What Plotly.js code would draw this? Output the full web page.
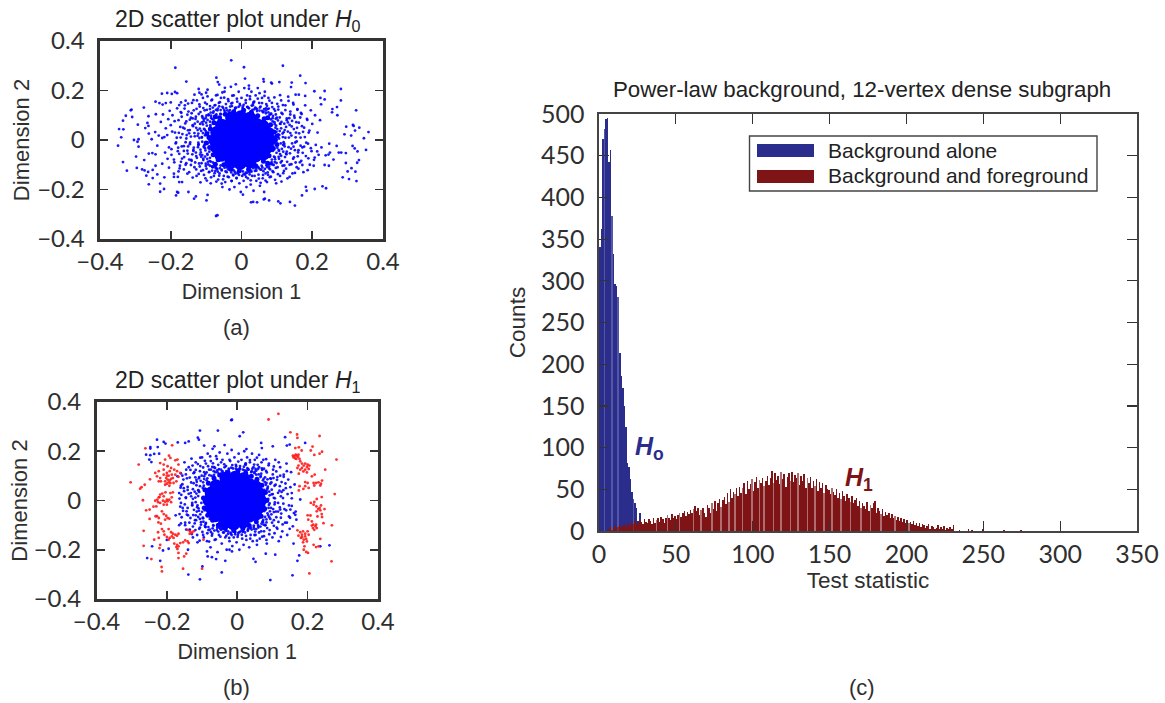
<!DOCTYPE html>
<html><head><meta charset="utf-8"><script src="https://cdn.plot.ly/plotly-3.0.1.min.js"></script>
<style>html,body{margin:0;padding:0;background:#fff}#c{width:1165px;height:703px}</style></head><body><div id="c"></div>
<script>
const scatterTicks=[-0.4,-0.2,0,0.2,0.4];
const scatterTickText=['\u22120.4','\u22120.2','0','0.2','0.4'];
const histXTicks=[0,50,100,150,200,250,300,350];
const histYTicks=[0,50,100,150,200,250,300,350,400,450,500];

// Panel (a): dense core, its edge, mid-density bands, sparse outliers
const h0Core=[[-0.03,-0.09],[-0.004,-0.095],[0.024,-0.088],[-0.058,-0.062],[-0.034,-0.06],[-0.008,-0.065],[0.016,-0.06],[0.04,-0.064],[0.062,-0.056],[-0.07,-0.03],[-0.046,-0.034],[-0.02,-0.03],[0.005,-0.032],[0.03,-0.03],[0.055,-0.034],[0.074,-0.028],[-0.076,0],[-0.05,0.002],[-0.024,-0.002],[0,0],[0.026,0.002],[0.05,-0.002],[0.078,0],[-0.07,0.03],[-0.044,0.032],[-0.02,0.03],[0.006,0.034],[0.03,0.03],[0.056,0.032],[0.074,0.028],[-0.056,0.06],[-0.032,0.062],[-0.006,0.064],[0.018,0.06],[0.042,0.064],[0.06,0.056],[-0.028,0.09],[-0.002,0.094],[0.024,0.088]];
const h0Edge=[[-0.092,0.01],[-0.09,-0.03],[-0.088,0.044],[-0.08,-0.06],[-0.078,0.07],[-0.066,-0.08],[-0.062,0.09],[-0.05,-0.1],[-0.046,0.104],[-0.03,-0.118],[-0.022,0.114],[-0.006,-0.124],[0.006,0.12],[0.02,-0.118],[0.028,0.112],[0.04,-0.104],[0.046,0.098],[0.062,-0.086],[0.064,0.086],[0.078,-0.064],[0.082,0.062],[0.09,-0.034],[0.092,0.032],[0.096,0],[-0.1,-0.012],[-0.098,0.024],[0.1,0.016],[0.1,-0.018],[-0.074,0.094],[0.074,0.09],[-0.074,-0.098],[0.074,-0.094]];
const h0Mid=[[-0.21,0.02],[-0.205,-0.03],[-0.2,0.06],[-0.198,-0.06],[-0.195,0.1],[-0.19,-0.09],[-0.188,0.03],[-0.185,-0.01],[-0.182,0.128],[-0.18,-0.045],[-0.178,0.08],[-0.175,-0.115],[-0.172,0.01],[-0.17,0.11],[-0.168,-0.075],[-0.165,0.05],[-0.163,-0.025],[-0.16,0.14],[-0.158,-0.1],[-0.156,0.075],[-0.155,0.02],[-0.152,-0.055],[-0.15,0.115],[-0.148,-0.13],[-0.146,0.04],[-0.145,-0.01],[-0.143,0.09],[-0.142,-0.08],[-0.14,0.15],[-0.138,0.06],[-0.136,-0.04],[-0.135,0.12],[-0.133,-0.11],[-0.132,0.015],[-0.13,0.085],[-0.128,-0.065],[-0.127,-0.145],[-0.126,0.16],[-0.124,0.04],[-0.122,-0.02],[-0.121,0.105],[-0.12,-0.095],[-0.118,0.135],[-0.117,0.065],[-0.115,-0.05],[-0.114,-0.125],[-0.112,0.01],[-0.11,0.09],[-0.109,0.17],[-0.108,-0.075],[-0.106,0.045],[-0.105,-0.03],[-0.104,0.12],[-0.102,-0.155],[-0.101,-0.105],[-0.1,0.07],[-0.098,0.145],[-0.097,-0.01],[-0.096,-0.06],[-0.094,0.03],[-0.093,0.1],[-0.092,-0.13],[-0.09,-0.085],[-0.089,0.125],[-0.088,0.06],[-0.087,-0.175],[-0.085,0.16],[-0.084,-0.04],[-0.083,0.085],[-0.082,-0.11],[-0.08,0.11],[-0.078,-0.145],[-0.076,0.14],[-0.074,-0.125],[-0.072,0.18],[-0.07,-0.115],[-0.068,0.12],[-0.066,-0.16],[-0.064,0.15],[-0.062,-0.135],[-0.06,0.105],[-0.058,0.17],[-0.056,-0.12],[-0.054,-0.19],[-0.052,0.13],[-0.05,-0.145],[-0.048,0.195],[-0.046,-0.17],[-0.044,0.145],[-0.042,-0.13],[-0.04,0.12],[-0.038,0.165],[-0.036,-0.15],[-0.034,-0.2],[-0.032,0.135],[-0.03,0.215],[-0.028,-0.165],[-0.026,0.15],[-0.024,-0.14],[-0.022,0.18],[-0.02,-0.19],[-0.018,0.13],[-0.016,0.225],[-0.014,-0.155],[-0.012,0.155],[-0.01,-0.135],[-0.008,0.195],[-0.006,-0.175],[-0.004,0.14],[-0.002,-0.21],[0,0.17],[0.002,-0.145],[0.004,0.135],[0.006,-0.165],[0.008,0.21],[0.01,-0.14],[0.012,0.15],[0.014,-0.19],[0.016,0.18],[0.018,-0.155],[0.02,0.13],[0.022,-0.13],[0.024,0.165],[0.026,-0.18],[0.028,0.195],[0.03,-0.145],[0.032,0.14],[0.034,-0.205],[0.036,0.155],[0.038,-0.125],[0.04,0.18],[0.042,-0.165],[0.044,0.125],[0.046,0.21],[0.048,-0.14],[0.05,0.15],[0.052,-0.185],[0.054,0.135],[0.056,-0.12],[0.058,0.17],[0.06,-0.155],[0.062,0.115],[0.064,-0.21],[0.066,0.195],[0.068,-0.135],[0.07,0.145],[0.072,-0.17],[0.074,0.125],[0.076,0.17],[0.078,-0.115],[0.08,-0.15],[0.082,0.105],[0.084,-0.095],[0.086,0.15],[0.088,0.075],[0.09,-0.13],[0.092,0.125],[0.094,-0.07],[0.096,0.05],[0.098,-0.175],[0.1,0.09],[0.102,-0.11],[0.104,0.135],[0.105,-0.04],[0.107,0.02],[0.109,-0.145],[0.11,0.065],[0.112,0.16],[0.114,-0.085],[0.116,0.105],[0.118,-0.02],[0.12,-0.125],[0.122,0.04],[0.124,0.14],[0.126,-0.055],[0.128,0.08],[0.13,-0.155],[0.132,0.175],[0.134,0.01],[0.136,-0.1],[0.138,0.115],[0.14,-0.035],[0.142,0.055],[0.144,-0.135],[0.146,0.15],[0.148,-0.07],[0.15,0.09],[0.152,-0.01],[0.154,0.03],[0.156,-0.11],[0.158,0.125],[0.16,-0.05],[0.162,0.07],[0.165,-0.09],[0.167,0.01],[0.17,0.105],[0.172,-0.03],[0.175,-0.13],[0.177,0.05],[0.18,0.14],[0.182,-0.065],[0.185,0.085],[0.188,-0.015],[0.19,0.03],[0.193,-0.1],[0.196,0.12],[0.198,-0.045],[0.2,0.065],[0.205,-0.08],[0.208,0.1],[0.21,-0.02],[0.215,0.03],[0.218,-0.06],[0.222,0.08],[0.226,-0.03]];
const h0Band=[[0.087,0.041],[0.093,0.072],[0.104,0.023],[0.098,0.058],[0.112,0.047],[0.089,0.097],[0.117,0.012],[0.083,0.083],[0.121,0.066],[0.108,0.091],[0.131,0.034],[0.076,0.112],[0.095,0.118],[0.064,0.125],[0.128,0.087],[0.141,0.018],[0.052,0.131],[0.136,0.061],[0.072,0.138],[0.113,0.109],[0.148,0.044],[0.041,0.128],[0.087,0.133],[0.029,0.139],[0.124,0.121],[0.155,0.072],[0.058,0.149],[0.017,0.134],[0.101,0.146],[0.163,0.027],[0.138,0.103],[0.006,0.142],[0.079,0.159],[0.149,0.098],[0.034,0.153],[0.171,0.056],[0.117,0.141],[0.046,0.167],[0.158,0.122],[0.012,0.161],[0.093,0.172],[0.179,0.012],[0.065,0.178],[0.133,0.158],[0.186,0.081],[0.024,0.176],[0.109,0.181],[0.168,0.109],[0.192,0.038],[0.051,0.189],[0.147,0.143],[0.099,0.033],[0.091,0.014],[0.103,0.079],[0.119,0.031],[0.126,0.053],[0.084,0.106],[0.097,0.103],[0.069,0.119],[0.077,0.127],[0.058,0.118],[0.044,0.117],[0.036,0.124],[0.021,0.128],[0.109,0.066],[0.143,0.077],[0.153,0.011],[0.157,0.049],[0.174,0.033],[0.166,0.091],
[-0.088,0.052],[-0.096,0.081],[-0.103,0.019],[-0.109,0.063],[-0.114,0.037],[-0.093,0.103],[-0.119,0.008],[-0.086,0.089],[-0.124,0.074],[-0.111,0.096],[-0.133,0.028],[-0.079,0.116],[-0.098,0.122],[-0.067,0.127],[-0.129,0.094],[-0.143,0.014],[-0.054,0.134],[-0.137,0.056],[-0.074,0.141],[-0.116,0.113],[-0.151,0.039],[-0.043,0.129],[-0.089,0.137],[-0.027,0.137],[-0.127,0.126],[-0.159,0.067],[-0.061,0.153],[-0.015,0.131],[-0.103,0.151],[-0.167,0.024],[-0.141,0.108],[-0.005,0.146],[-0.083,0.163],[-0.153,0.102],[-0.037,0.157],[-0.173,0.053],[-0.119,0.144],[-0.049,0.171],[-0.161,0.127],[-0.013,0.167],[-0.096,0.176],[-0.183,0.009],[-0.068,0.182],[-0.136,0.161],[-0.189,0.076],[-0.026,0.179],[-0.113,0.184],[-0.172,0.113],[-0.196,0.034],[-0.054,0.192],[-0.151,0.147],[-0.101,0.036],[-0.094,0.017],[-0.106,0.084],[-0.122,0.026],[-0.128,0.049],[-0.087,0.111],[-0.099,0.099],[-0.072,0.122],[-0.081,0.131],[-0.059,0.121],[-0.047,0.116],[-0.033,0.121],[-0.018,0.126],[-0.112,0.071],[-0.146,0.082],[-0.156,0.006],[-0.161,0.046],[-0.177,0.029],[-0.169,0.094],[-0.207,0.084],[-0.214,0.047],[-0.222,0.103],[-0.176,0.141],[-0.203,0.118],
[-0.091,-0.047],[-0.097,-0.076],[-0.105,-0.021],[-0.111,-0.061],[-0.116,-0.039],[-0.094,-0.099],[-0.122,-0.011],[-0.087,-0.087],[-0.126,-0.072],[-0.113,-0.094],[-0.135,-0.031],[-0.081,-0.109],[-0.099,-0.116],[-0.069,-0.119],[-0.131,-0.091],[-0.146,-0.017],[-0.056,-0.123],[-0.139,-0.058],[-0.076,-0.134],[-0.118,-0.107],[-0.153,-0.043],[-0.045,-0.127],[-0.091,-0.129],[-0.029,-0.131],[-0.128,-0.119],[-0.162,-0.069],[-0.063,-0.144],[-0.017,-0.136],[-0.106,-0.141],[-0.169,-0.026],[-0.143,-0.101],[-0.007,-0.141],[-0.086,-0.151],[-0.156,-0.094],[-0.039,-0.148],[-0.176,-0.056],[-0.121,-0.137],[-0.052,-0.159],[-0.163,-0.119],[-0.014,-0.153],[-0.098,-0.164],[-0.186,-0.014],[-0.071,-0.168],[-0.138,-0.152],[-0.191,-0.079],[-0.028,-0.166],[-0.116,-0.171],[-0.174,-0.104],[-0.198,-0.037],[-0.056,-0.176],[-0.153,-0.136],[-0.103,-0.033],[-0.096,-0.014],[-0.108,-0.081],[-0.123,-0.029],[-0.129,-0.051],[-0.089,-0.104],[-0.101,-0.096],[-0.073,-0.113],[-0.083,-0.124],[-0.061,-0.114],[-0.048,-0.112],[-0.034,-0.117],[-0.019,-0.129],[-0.114,-0.068],[-0.148,-0.079],[-0.158,-0.009],[-0.163,-0.044],[-0.179,-0.031],[-0.171,-0.088],[-0.209,-0.076],[-0.216,-0.051],[-0.224,-0.096],[-0.178,-0.127],[-0.205,-0.112],[-0.191,-0.136],
[0.089,-0.044],[0.095,-0.078],[0.102,-0.019],[0.109,-0.057],[0.114,-0.036],[0.091,-0.101],[0.119,-0.009],[0.085,-0.089],[0.123,-0.069],[0.111,-0.091],[0.133,-0.029],[0.078,-0.107],[0.097,-0.113],[0.066,-0.117],[0.129,-0.088],[0.143,-0.014],[0.053,-0.119],[0.137,-0.054],[0.074,-0.131],[0.116,-0.104],[0.151,-0.041],[0.042,-0.124],[0.088,-0.126],[0.028,-0.128],[0.126,-0.116],[0.159,-0.066],[0.061,-0.141],[0.015,-0.133],[0.103,-0.138],[0.167,-0.023],[0.141,-0.098],[0.006,-0.138],[0.083,-0.148],[0.153,-0.091],[0.037,-0.145],[0.173,-0.052],[0.118,-0.134],[0.049,-0.156],[0.161,-0.116],[0.013,-0.149],[0.095,-0.161],[0.183,-0.011],[0.068,-0.164],[0.136,-0.149],[0.189,-0.074],[0.026,-0.163],[0.113,-0.168],[0.172,-0.101],[0.196,-0.033],[0.054,-0.173],[0.151,-0.133],[0.101,-0.031],[0.094,-0.012],[0.106,-0.076],[0.122,-0.026],[0.128,-0.047],[0.087,-0.099],[0.099,-0.093],[0.072,-0.109],[0.081,-0.119],[0.059,-0.111],[0.047,-0.109],[0.033,-0.114],[0.018,-0.124],[0.112,-0.064],[0.146,-0.076],[0.156,-0.006],[0.161,-0.041],[0.177,-0.027],[0.169,-0.084],[0.207,-0.071],[0.214,-0.046],[0.187,-0.122],[0.204,-0.104]];
const h0Halo=[[0.106,0.006],[0.111,-0.014],[0.101,0.044],[0.108,0.036],[0.099,-0.052],[0.106,-0.044],[0.094,0.064],[0.092,-0.067],[0.088,0.088],[0.086,-0.079],[0.079,0.101],[0.082,-0.097],[0.069,0.108],[0.071,-0.102],[0.061,0.112],[0.057,-0.104],[0.051,0.119],[0.049,-0.114],[0.039,0.131],[0.041,-0.116],[0.031,0.122],[0.027,-0.124],[0.016,0.133],[0.012,-0.132],[0.003,0.129],[0.004,-0.127],[-0.008,0.134],[-0.011,-0.131],[-0.021,0.119],[-0.022,-0.123],[-0.036,0.113],[-0.038,-0.119],[-0.049,0.122],[-0.042,-0.111],[-0.058,0.104],[-0.059,-0.103],[-0.071,0.103],[-0.074,-0.108],[-0.079,0.082],[-0.081,-0.091],[-0.089,0.074],[-0.089,-0.072],[-0.098,0.058],[-0.097,-0.056],[-0.104,0.042],[-0.102,-0.042],[-0.109,0.028],[-0.107,-0.027],[-0.112,0.012],[-0.111,-0.007],[-0.118,0.046],[-0.117,-0.059],[-0.124,0.017],[-0.121,-0.018],[0.116,0.026],[0.118,-0.047],[0.124,0.009],[0.121,-0.016],[0.113,0.073],[0.105,-0.068],[0.097,0.086],[0.094,-0.089],[-0.107,0.076],[-0.103,-0.067],[-0.101,0.09],[-0.095,-0.088],[-0.086,0.098],[-0.083,-0.107],[0.131,0.071],[0.127,-0.058],[-0.132,0.066],[-0.136,-0.044],[0.069,0.128],[0.062,-0.126],[-0.063,0.136],[-0.067,-0.128],[0.033,0.147],[0.023,-0.139],[-0.029,0.147],[-0.023,-0.143],[0.138,0.028],[0.147,-0.027],[-0.148,0.027],[-0.151,-0.026],[0.075,-0.141],[0.104,0.123],[-0.108,0.129],[-0.109,-0.122],[0.121,-0.103],[0.135,0.088],[-0.138,0.087],[-0.141,-0.084]];
const h0Sparse=[[-0.029,0.322],[-0.187,0.292],[-0.071,0.252],[-0.156,0.236],[-0.067,0.234],[-0.063,0.224],[-0.047,0.211],[-0.121,0.206],[-0.096,0.203],[-0.225,0.187],[-0.21,0.19],[-0.197,0.186],[-0.188,0.194],[-0.182,0.189],[-0.133,0.183],[-0.119,0.191],[-0.1,0.191],[-0.311,0.123],[-0.313,0.12],[-0.327,0.098],[-0.335,0.078],[-0.309,0.093],[-0.276,0.131],[-0.243,0.155],[-0.232,0.149],[-0.223,0.143],[-0.214,0.149],[-0.2,0.152],[-0.171,0.152],[-0.158,0.159],[-0.263,0.096],[-0.242,0.104],[-0.293,0.062],[-0.266,0.069],[-0.263,0.057],[-0.272,0.048],[-0.228,0.073],[-0.346,0.044],[-0.334,0.043],[-0.34,0.011],[-0.349,-0.023],[-0.304,0],[-0.294,-0.007],[-0.291,0.003],[-0.291,-0.027],[-0.262,0.026],[-0.244,0.032],[-0.254,0.003],[-0.234,0.018],[-0.238,-0.023],[-0.224,0.008],[-0.218,0.012],[-0.298,-0.067],[-0.262,-0.055],[-0.252,-0.053],[-0.243,-0.058],[-0.335,-0.089],[-0.275,-0.081],[-0.296,-0.113],[-0.324,-0.124],[-0.281,-0.119],[-0.274,-0.123],[-0.264,-0.129],[-0.251,-0.121],[-0.243,-0.104],[-0.269,-0.144],[-0.251,-0.154],[-0.238,-0.139],[-0.262,-0.179],[-0.23,-0.176],[-0.218,-0.151],[-0.23,-0.209],[-0.219,-0.198],[-0.191,-0.149],[-0.18,-0.149],[-0.176,-0.17],[-0.168,-0.17],[-0.182,-0.21],[-0.179,-0.213],[-0.185,-0.224],[-0.15,-0.21],[-0.134,-0.237],[-0.129,-0.228],[-0.099,-0.244],[-0.096,-0.222],[-0.072,-0.307],[-0.068,-0.304],[0.007,0.294],[0.117,0.3],[0.01,0.248],[0.062,0.246],[0.063,0.236],[0.084,0.232],[0.086,0.228],[0.107,0.234],[0.166,0.26],[0.181,0.23],[0.142,0.232],[0.14,0.214],[0.021,0.22],[0.021,0.207],[0.206,0.197],[0.235,0.198],[0.281,0.206],[0.18,0.178],[0.162,0.183],[0.153,0.183],[0.223,0.17],[0.235,0.164],[0.225,0.144],[0.281,0.16],[0.27,0.133],[0.257,0.125],[0.256,0.112],[0.271,0.1],[0.324,0.12],[0.296,0.054],[0.315,0.061],[0.317,0.057],[0.333,0.05],[0.321,0.038],[0.359,0.032],[0.291,0.023],[0.31,0.018],[0.346,0.007],[0.248,-0.015],[0.269,-0.024],[0.314,-0.024],[0.32,-0.034],[0.352,-0.04],[0.328,-0.046],[0.275,-0.051],[0.282,-0.051],[0.295,-0.053],[0.25,-0.051],[0.246,-0.059],[0.238,-0.062],[0.26,-0.079],[0.332,-0.081],[0.327,-0.092],[0.295,-0.093],[0.235,-0.101],[0.247,-0.104],[0.311,-0.114],[0.3,-0.127],[0.322,-0.128],[0.286,-0.151],[0.304,-0.158],[0.325,-0.166],[0.229,-0.187],[0.239,-0.195],[0.207,-0.198],[0.171,-0.224],[0.182,-0.189],[0.184,-0.205],[0.066,-0.237],[0.063,-0.24],[0.078,-0.244],[0.027,-0.252],[0.033,-0.25],[0.044,-0.252],[0.104,-0.248],[0.11,-0.256],[0.137,-0.25],[0.151,-0.265],[0.004,-0.221]];

// Panel (b)
const h1Core=[[-0.036,-0.09],[-0.01,-0.095],[0.016,-0.088],[-0.062,-0.062],[-0.038,-0.06],[-0.012,-0.065],[0.012,-0.06],[0.034,-0.064],[0.052,-0.056],[-0.074,-0.03],[-0.05,-0.034],[-0.024,-0.03],[0,-0.032],[0.024,-0.03],[0.046,-0.034],[0.062,-0.028],[-0.08,0],[-0.054,0.002],[-0.028,-0.002],[-0.004,0],[0.02,0.002],[0.044,-0.002],[0.066,0],[-0.074,0.03],[-0.048,0.032],[-0.024,0.03],[0.002,0.034],[0.024,0.03],[0.048,0.032],[0.062,0.028],[-0.06,0.06],[-0.036,0.062],[-0.01,0.064],[0.012,0.06],[0.036,0.064],[0.052,0.056],[-0.032,0.09],[-0.006,0.094],[0.018,0.088]];
const h1Edge=[[-0.096,0.01],[-0.094,-0.03],[-0.092,0.044],[-0.084,-0.06],[-0.082,0.07],[-0.07,-0.08],[-0.066,0.09],[-0.054,-0.1],[-0.05,0.104],[-0.034,-0.114],[-0.026,0.114],[-0.01,-0.122],[0.002,0.12],[0.016,-0.114],[0.024,0.112],[0.034,-0.102],[0.04,0.098],[0.054,-0.086],[0.056,0.086],[0.068,-0.064],[0.07,0.062],[0.078,-0.034],[0.08,0.032],[0.084,0]];
const h1Mid=[[-0.16,0.11],[-0.155,-0.03],[-0.152,0.05],[-0.15,0.155],[-0.148,-0.09],[-0.146,0.01],[-0.143,0.09],[-0.14,-0.06],[-0.138,0.135],[-0.135,-0.12],[-0.132,0.03],[-0.13,0.17],[-0.128,-0.02],[-0.126,-0.15],[-0.124,0.07],[-0.122,0.115],[-0.12,-0.08],[-0.118,0.155],[-0.115,-0.045],[-0.113,-0.17],[-0.11,0.04],[-0.108,0.095],[-0.106,-0.11],[-0.105,0.14],[-0.102,-0.01],[-0.1,0.175],[-0.098,-0.07],[-0.097,-0.14],[-0.095,0.06],[-0.094,0.115],[-0.092,-0.04],[-0.09,-0.095],[-0.089,0.15],[-0.088,0.02],[-0.086,-0.165],[-0.085,0.09],[-0.084,0.19],[-0.082,-0.12],[-0.08,0.125],[-0.078,-0.075],[-0.076,-0.19],[-0.075,0.16],[-0.073,0.1],[-0.071,-0.135],[-0.07,0.21],[-0.068,-0.1],[-0.066,0.135],[-0.064,-0.16],[-0.062,0.115],[-0.06,0.18],[-0.058,-0.12],[-0.056,-0.21],[-0.054,0.145],[-0.052,-0.14],[-0.05,0.195],[-0.048,-0.115],[-0.046,0.125],[-0.044,-0.175],[-0.042,0.165],[-0.04,-0.13],[-0.038,0.11],[-0.036,0.225],[-0.034,-0.15],[-0.032,0.14],[-0.03,-0.2],[-0.028,0.19],[-0.026,-0.125],[-0.024,0.125],[-0.022,-0.165],[-0.02,0.16],[-0.018,-0.135],[-0.016,0.205],[-0.014,-0.185],[-0.012,0.13],[-0.01,-0.15],[-0.008,0.175],[-0.006,-0.13],[-0.004,0.145],[-0.002,-0.17],[0,0.125],[0.002,-0.14],[0.004,0.19],[0.006,-0.2],[0.008,0.14],[0.01,-0.125],[0.012,0.165],[0.014,-0.155],[0.016,0.125],[0.018,-0.18],[0.02,0.2],[0.022,-0.13],[0.024,0.145],[0.026,-0.16],[0.028,0.175],[0.03,-0.12],[0.032,0.125],[0.034,-0.19],[0.036,0.155],[0.038,-0.14],[0.04,0.115],[0.042,0.19],[0.044,-0.165],[0.046,0.135],[0.048,-0.115],[0.05,0.165],[0.052,-0.14],[0.054,0.105],[0.056,-0.18],[0.058,0.145],[0.06,-0.105],[0.062,0.185],[0.064,-0.155],[0.066,0.095],[0.068,-0.125],[0.07,0.13],[0.072,-0.085],[0.074,0.165],[0.076,-0.145],[0.078,0.075],[0.08,-0.1],[0.082,0.12],[0.084,-0.175],[0.086,0.05],[0.088,-0.06],[0.09,0.15],[0.092,-0.12],[0.094,0.09],[0.096,-0.03],[0.098,0.025],[0.1,-0.15],[0.102,0.125],[0.104,-0.08],[0.106,0.06],[0.108,0.165],[0.11,-0.045],[0.112,-0.11],[0.114,0.095],[0.116,-0.01],[0.118,-0.165],[0.12,0.04],[0.122,0.135],[0.124,-0.07],[0.126,0.075],[0.128,-0.125],[0.13,0.01],[0.132,0.105],[0.134,-0.035],[0.136,-0.09],[0.138,0.05],[0.14,0.15],[0.142,-0.14],[0.145,0.085],[0.147,-0.02],[0.15,-0.07],[0.153,0.115],[0.155,0.03],[0.158,-0.105],[0.16,-0.175],[0.163,0.065],[0.166,-0.045]];
const h1Band=[[0.077,0.043],[0.083,0.071],[0.092,0.021],[0.087,0.056],[0.098,0.044],[0.079,0.094],[0.104,0.011],[0.073,0.082],[0.109,0.064],[0.096,0.088],[0.116,0.031],[0.068,0.109],[0.084,0.114],[0.054,0.121],[0.113,0.084],[0.124,0.017],[0.043,0.129],[0.121,0.058],[0.062,0.135],[0.101,0.106],[0.131,0.042],[0.031,0.126],[0.076,0.129],[0.019,0.137],[0.111,0.118],[0.137,0.069],[0.048,0.146],[0.007,0.131],[0.089,0.143],[0.143,0.026],[0.122,0.101],[-0.003,0.139],[0.069,0.155],[0.132,0.096],[0.024,0.151],[0.151,0.054],[0.104,0.138],[0.036,0.164],[0.141,0.119],[0.003,0.158],[0.082,0.168],[0.155,0.009],[0.056,0.174],[0.118,0.155],[0.059,0.128],[0.049,0.116],[0.026,0.121],[0.094,0.068],[0.103,0.091],[0.071,0.124],
[-0.098,0.051],[-0.104,0.08],[-0.111,0.018],[-0.116,0.062],[-0.121,0.036],[-0.101,0.101],[-0.126,0.007],[-0.094,0.087],[-0.131,0.073],[-0.119,0.094],[-0.138,0.027],[-0.087,0.114],[-0.106,0.119],[-0.075,0.125],[-0.135,0.093],[-0.146,0.013],[-0.063,0.132],[-0.141,0.055],[-0.083,0.139],[-0.124,0.111],[-0.151,0.038],[-0.052,0.127],[-0.097,0.134],[-0.036,0.135],[-0.133,0.124],[-0.156,0.066],[-0.069,0.151],[-0.024,0.129],[-0.112,0.148],[-0.159,0.023],[-0.146,0.106],[-0.014,0.144],[-0.092,0.161],[-0.156,0.101],[-0.046,0.155],[-0.161,0.052],[-0.127,0.142],[-0.058,0.169],[-0.145,0.125],[-0.022,0.165],[-0.105,0.174],[-0.164,0.008],[-0.077,0.179],[-0.118,0.124],[-0.067,0.119],[-0.056,0.114],[-0.042,0.119],[-0.108,0.035],[-0.116,0.084],[-0.091,0.107],
[-0.1,-0.046],[-0.106,-0.075],[-0.113,-0.02],[-0.118,-0.06],[-0.123,-0.038],[-0.103,-0.098],[-0.128,-0.01],[-0.096,-0.086],[-0.133,-0.071],[-0.121,-0.093],[-0.141,-0.03],[-0.09,-0.108],[-0.108,-0.115],[-0.078,-0.118],[-0.136,-0.09],[-0.149,-0.016],[-0.065,-0.122],[-0.143,-0.057],[-0.085,-0.133],[-0.126,-0.106],[-0.154,-0.042],[-0.054,-0.126],[-0.099,-0.128],[-0.038,-0.13],[-0.135,-0.118],[-0.158,-0.068],[-0.072,-0.143],[-0.026,-0.135],[-0.114,-0.14],[-0.162,-0.025],[-0.148,-0.1],[-0.016,-0.14],[-0.095,-0.15],[-0.16,-0.093],[-0.048,-0.147],[-0.164,-0.055],[-0.129,-0.136],[-0.061,-0.158],[-0.145,-0.118],[-0.023,-0.152],[-0.107,-0.163],[-0.08,-0.167],[-0.119,-0.12],[-0.07,-0.113],[-0.057,-0.111],[-0.043,-0.116],[-0.11,-0.032],[-0.117,-0.08],[-0.092,-0.103],
[0.077,-0.043],[0.083,-0.077],[0.09,-0.018],[0.097,-0.056],[0.102,-0.035],[0.079,-0.1],[0.107,-0.008],[0.073,-0.088],[0.111,-0.068],[0.099,-0.09],[0.121,-0.028],[0.066,-0.106],[0.085,-0.112],[0.054,-0.116],[0.117,-0.087],[0.131,-0.013],[0.041,-0.118],[0.125,-0.053],[0.062,-0.13],[0.104,-0.103],[0.139,-0.04],[0.03,-0.123],[0.076,-0.125],[0.016,-0.127],[0.114,-0.115],[0.147,-0.065],[0.049,-0.14],[0.003,-0.132],[0.091,-0.137],[0.155,-0.022],[0.129,-0.097],[-0.006,-0.137],[0.071,-0.147],[0.141,-0.09],[0.025,-0.144],[0.161,-0.051],[0.106,-0.133],[0.037,-0.155],[0.149,-0.115],[0.001,-0.148],[0.083,-0.16],[0.056,-0.163],[0.124,-0.148],[0.06,-0.11],[0.047,-0.108],[0.035,-0.113],[0.089,-0.03],[0.094,-0.075],[0.075,-0.098],[0.116,-0.045]];
const h1Halo=[[0.088,0.006],[0.092,-0.012],[0.085,0.044],[0.091,0.036],[0.086,-0.052],[0.093,-0.044],[0.081,0.064],[0.079,-0.067],[0.075,0.088],[0.074,-0.079],[0.067,0.099],[0.069,-0.094],[0.061,0.106],[0.059,-0.099],[0.049,0.111],[0.047,-0.102],[0.041,0.119],[0.039,-0.111],[0.029,0.131],[0.031,-0.114],[0.021,0.122],[0.017,-0.124],[0.008,0.128],[0.006,-0.129],[-0.004,0.129],[-0.006,-0.127],[-0.017,0.133],[-0.019,-0.131],[-0.031,0.119],[-0.032,-0.123],[-0.044,0.113],[-0.046,-0.119],[-0.057,0.122],[-0.051,-0.111],[-0.066,0.104],[-0.068,-0.103],[-0.079,0.103],[-0.082,-0.108],[-0.087,0.082],[-0.089,-0.091],[-0.097,0.074],[-0.097,-0.072],[-0.106,0.058],[-0.105,-0.056],[-0.111,0.042],[-0.109,-0.042],[-0.116,0.028],[-0.114,-0.027],[-0.119,0.012],[-0.118,-0.007],[-0.126,0.046],[-0.125,-0.059],[-0.131,0.017],[-0.128,-0.018],[0.101,0.026],[0.104,-0.047],[0.107,0.009],[0.106,-0.016],[0.097,0.073],[0.091,-0.068],[0.086,0.086],[0.083,-0.089],[-0.115,0.076],[-0.111,-0.067],[-0.109,0.09],[-0.103,-0.088],[-0.094,0.098],[-0.091,-0.107],[0.052,0.128],[0.051,-0.126],[-0.071,0.136],[-0.075,-0.128],[0.023,0.147],[0.013,-0.139],[-0.037,0.147],[-0.031,-0.143],[-0.141,0.043],[-0.144,-0.044],[0.126,0.035],[0.122,-0.037]];
const h1Sparse=[[-0.015,0.328],[-0.017,0.326],[-0.106,0.284],[-0.055,0.284],[-0.228,0.247],[-0.209,0.238],[-0.204,0.231],[-0.169,0.236],[-0.148,0.234],[-0.138,0.24],[-0.112,0.255],[-0.109,0.247],[-0.247,0.217],[-0.247,0.211],[-0.226,0.217],[-0.259,0.186],[-0.247,0.184],[-0.236,0.189],[-0.222,0.19],[-0.25,0.166],[-0.244,0.156],[-0.094,0.223],[-0.065,0.22],[-0.256,-0.234],[-0.219,-0.245],[-0.242,-0.186],[-0.211,-0.203],[-0.195,-0.196],[-0.139,-0.301],[-0.106,-0.32],[-0.044,-0.292],[-0.099,-0.268],[-0.034,-0.245],[-0.086,-0.207],[-0.084,-0.227],[-0.072,-0.23],[-0.06,-0.238],[-0.022,-0.2],[-0.015,-0.207],[0.007,0.261],[0.017,0.277],[0.068,0.234],[0.07,0.213],[0.026,0.209],[0.101,0.22],[0.136,0.257],[0.141,0.223],[0.149,0.227],[0.193,0.234],[0.094,-0.323],[0.157,-0.304],[0.052,-0.249],[0.046,-0.237],[0.171,-0.245],[0.176,-0.223],[0.262,-0.182],[0.236,-0.186],[0.108,-0.22],[0.081,-0.216],[0.165,-0.058],[0.168,-0.078],[0.151,-0.037],[0.179,0.004],[-0.17,0.098],[-0.16,0.06],[-0.153,0.085],[-0.165,0.03],[-0.16,-0.01],[-0.175,-0.06],[-0.165,-0.1],[-0.2,-0.16],[-0.14,-0.2]];
const h1Red=[[-0.261,0.212],[-0.185,0.224],[-0.28,0.146],[-0.303,0.074],[-0.276,0.048],[-0.272,0.054],[-0.263,0.064],[-0.248,0.086],[-0.268,0.001],[-0.249,-0.037],[-0.259,-0.04],[-0.249,-0.075],[-0.238,-0.025],[-0.23,-0.024],[-0.225,-0.007],[-0.233,-0.001],[-0.227,0.003],[-0.223,0.013],[-0.219,0.024],[-0.213,0.028],[-0.209,0.017],[-0.204,0.033],[-0.19,0.03],[-0.183,0.033],[-0.2,0.003],[-0.211,-0.001],[-0.205,-0.005],[-0.198,-0.003],[-0.193,0.003],[-0.186,0.013],[-0.188,-0.007],[-0.219,-0.01],[-0.221,0.014],[-0.209,-0.017],[-0.2,-0.017],[-0.214,-0.044],[-0.209,-0.055],[-0.228,-0.064],[-0.223,-0.071],[-0.232,-0.064],[-0.205,-0.078],[-0.198,-0.071],[-0.193,-0.074],[-0.202,-0.062],[-0.224,-0.089],[-0.217,-0.094],[-0.266,-0.123],[-0.225,-0.129],[-0.214,-0.116],[-0.209,-0.125],[-0.195,-0.116],[-0.188,-0.129],[-0.183,-0.135],[-0.176,-0.139],[-0.186,-0.146],[-0.171,-0.143],[-0.167,-0.135],[-0.207,-0.139],[-0.2,-0.148],[-0.192,-0.152],[-0.195,-0.159],[-0.181,-0.152],[-0.223,-0.152],[-0.236,-0.159],[-0.219,-0.18],[-0.221,-0.193],[-0.266,-0.184],[-0.244,-0.238],[-0.215,-0.27],[-0.214,-0.288],[-0.154,-0.277],[-0.1,-0.277],[-0.096,-0.159],[-0.179,-0.175],[-0.171,-0.18],[-0.167,-0.186],[-0.162,-0.173],[-0.154,-0.17],[-0.148,-0.162],[-0.141,-0.166],[-0.138,-0.173],[-0.173,-0.189],[-0.17,-0.197],[-0.167,-0.213],[-0.145,-0.216],[-0.151,-0.227],[-0.167,-0.234],[-0.141,-0.119],[-0.134,-0.125],[-0.129,-0.132],[-0.124,-0.125],[-0.135,-0.135],[-0.194,0.182],[-0.205,0.166],[-0.19,0.173],[-0.176,0.163],[-0.17,0.166],[-0.167,0.146],[-0.219,0.152],[-0.209,0.146],[-0.198,0.139],[-0.188,0.132],[-0.179,0.125],[-0.171,0.119],[-0.162,0.112],[-0.223,0.119],[-0.233,0.112],[-0.228,0.098],[-0.219,0.091],[-0.209,0.105],[-0.2,0.112],[-0.192,0.119],[-0.186,0.105],[-0.176,0.105],[-0.167,0.096],[-0.205,0.078],[-0.198,0.085],[-0.192,0.082],[-0.202,0.091],[-0.195,0.074],[-0.188,0.088],[-0.2,0.068],[-0.193,0.06],[-0.205,0.064],[-0.217,0.078],[-0.181,0.071],[-0.173,0.078],[-0.223,0.078],[-0.209,0.125],[-0.195,0.101],[-0.183,0.091],[-0.2,0.101],[-0.19,0.071],[0.089,0.329],[0.117,0.352],[0.151,0.277],[0.17,0.268],[0.171,0.254],[0.234,0.262],[0.165,0.213],[0.175,0.216],[0.183,0.203],[0.214,0.219],[0.209,0.203],[0.241,0.198],[0.234,0.19],[0.219,0.185],[0.282,0.166],[0.25,0.125],[0.158,0.182],[0.162,0.18],[0.166,0.186],[0.169,0.182],[0.173,0.177],[0.165,0.171],[0.177,0.169],[0.16,0.175],[0.174,0.186],[0.168,0.169],[0.179,0.159],[0.184,0.15],[0.193,0.15],[0.2,0.146],[0.205,0.142],[0.189,0.142],[0.198,0.136],[0.184,0.132],[0.193,0.125],[0.203,0.128],[0.174,0.142],[0.171,0.132],[0.179,0.125],[0.188,0.118],[0.198,0.114],[0.175,0.109],[0.22,0.105],[0.212,0.098],[0.193,0.075],[0.2,0.071],[0.193,0.058],[0.188,0.047],[0.177,0.058],[0.175,0.041],[0.217,0.071],[0.224,0.071],[0.231,0.074],[0.238,0.068],[0.241,0.081],[0.219,0.061],[0.236,0.061],[0.203,0.051],[0.277,0.026],[0.24,0.014],[0.226,0.006],[0.219,-0.006],[0.209,-0.01],[0.217,-0.017],[0.225,-0.024],[0.23,-0.035],[0.234,-0.03],[0.236,-0.04],[0.226,-0.044],[0.248,-0.035],[0.238,-0.02],[0.24,-0.055],[0.228,-0.065],[0.2,-0.06],[0.208,-0.061],[0.202,-0.078],[0.212,-0.085],[0.241,-0.067],[0.245,-0.092],[0.269,-0.101],[0.216,-0.098],[0.222,-0.105],[0.226,-0.112],[0.215,-0.112],[0.219,-0.119],[0.212,-0.102],[0.224,-0.098],[0.171,-0.121],[0.179,-0.129],[0.187,-0.125],[0.193,-0.135],[0.2,-0.125],[0.203,-0.139],[0.184,-0.139],[0.193,-0.146],[0.174,-0.143],[0.181,-0.152],[0.189,-0.159],[0.196,-0.156],[0.187,-0.17],[0.184,-0.149],[0.198,-0.166],[0.191,-0.186],[0.189,-0.2],[0.196,-0.209],[0.201,-0.213],[0.217,-0.18],[0.224,-0.189],[0.231,-0.186],[0.236,-0.156],[0.268,-0.247],[0.205,-0.296]];

// Panel (c): histogram counts per unit bin
const h0Start=0;
const h0Counts=[340,362,470,482,494,495,442,457,378,332,296,294,280,213,186,172,150,125,82,77,62,47,38,33,28,12,22,8,4,2,1];
const h1Start=6;
const h1Counts=[2,5,1,4,6,3,5,7,4,6,8,5,9,7,6,10,8,12,7,9,13,11,8,14,
11,9,14,12,8,15,10,13,16,11,17,14,9,15,19,16,13,20,15,18,
14,19,22,17,21,24,18,23,20,25,21,26,30,24,27,19,25,28,22,17,
31,27,22,33,26,36,24,34,38,29,37,41,32,46,35,50,39,47,44,51,
42,53,46,51,58,44,60,50,56,62,48,59,65,52,61,57,64,54,60,66,
55,63,72,58,70,61,66,56,71,62,68,53,65,70,60,71,59,67,64,70,
55,66,60,68,52,63,58,65,51,60,54,62,48,59,52,57,46,55,50,49,
44,52,47,43,50,40,46,38,48,42,36,44,39,35,42,33,37,40,30,36,
28,34,30,26,35,24,31,27,33,36,
22,28,24,20,26,18,23,19,21,15,20,16,18,13,17,12,15,11,14,10,
13,9,11,8,12,7,10,6,9,5,8,7,4,6,8,3,6,5,2,4,
7,3,5,2,6,1,4,3,5,2,7,0,0,0,1,0,0,0,0,0,
2,0,1,0,0,0,0,0,0,2,0,0,0,0,0,0,0,0,0,0,
0,0,0,1,0,0,0,0,0,0,0,0,0,0,1];
// Bins that look paler in the picture
const paleBins=[3,8,12,22,37,44,52,61,66,73,79,84,88,93,99,104,107,113,118,124,129,135,140,146,151,157,163,170,176,183,192,201];

const W=1165,H=703;
const xs=p=>p.map(d=>d[0]), ys=p=>p.map(d=>d[1]);
const BLUE='#0000ff',RED='#ff1a1a',NAVY='#2b2d8c',MAROON='#7f1416',INK='#2f2f2f';
const SANS='Liberation Sans, Arimo, sans-serif';
const NUMF='Lato, sans-serif';
function pts(p,ax,ay,color,size,op){return {type:'scatter',mode:'markers',x:xs(p),y:ys(p),xaxis:ax,yaxis:ay,hoverinfo:'skip',showlegend:false,marker:{color:color,size:size,opacity:op,line:{width:0}}};}
function bins(start,c){return c.map((_,i)=>start+i+0.5);}
function pale(start,c,lo){return c.map((_,i)=>paleBins.includes(start+i)?lo:1);}
const traces=[
 pts(h0Sparse,'x','y',BLUE,2.8,0.9),pts(h0Mid,'x','y',BLUE,2.8,0.9),pts(h0Band,'x','y',BLUE,2.8,0.9),pts(h0Halo,'x','y',BLUE,2.8,0.9),pts(h0Edge,'x','y',BLUE,5,1),pts(h0Core,'x','y',BLUE,13,1),
 pts(h1Sparse,'x2','y2',BLUE,2.8,0.9),pts(h1Mid,'x2','y2',BLUE,2.8,0.9),pts(h1Band,'x2','y2',BLUE,2.8,0.9),pts(h1Halo,'x2','y2',BLUE,2.8,0.9),pts(h1Edge,'x2','y2',BLUE,5,1),pts(h1Core,'x2','y2',BLUE,13,1),
 pts(h1Red,'x2','y2',RED,2.8,0.9),
 {type:'bar',name:'Background alone',x:bins(h0Start,h0Counts),y:h0Counts,width:1,xaxis:'x3',yaxis:'y3',marker:{color:NAVY,opacity:pale(h0Start,h0Counts,0.8),line:{width:0}},hoverinfo:'skip'},
 {type:'bar',name:'Background and foreground',x:bins(h1Start,h1Counts),y:h1Counts,width:1,xaxis:'x3',yaxis:'y3',marker:{color:MAROON,opacity:pale(h1Start,h1Counts,0.62),line:{width:0}},hoverinfo:'skip'}
];
const dx=(a,b)=>[a/W,b/W], dy=(top,bot)=>[1-bot/H,1-top/H];
function sx(dom,anchor){return {domain:dom,anchor:anchor,range:[-0.4,0.4],tickmode:'array',tickvals:scatterTicks,ticktext:scatterTickText,ticks:'inside',ticklen:8,tickwidth:1.6,tickcolor:'#333',mirror:'allticks',showline:true,linewidth:2.6,linecolor:'#333',showgrid:false,zeroline:false,layer:'above traces',tickfont:{family:NUMF,size:24,color:INK},title:{text:'Dimension 1',font:{family:SANS,size:21.5,color:INK},standoff:10}};}
function sy(dom,anchor,off){return {domain:dom,anchor:anchor,range:[-0.4,0.4],tickmode:'array',tickvals:scatterTicks,ticktext:scatterTickText,ticks:'inside',ticklen:8,tickwidth:1.6,tickcolor:'#333',mirror:'allticks',showline:true,linewidth:2.6,linecolor:'#333',showgrid:false,zeroline:false,layer:'above traces',tickfont:{family:NUMF,size:24,color:INK},ticklabelstandoff:8,title:{text:'Dimension 2',font:{family:SANS,size:22,color:INK},standoff:off}};}
const paperNote=(x,y,text,size,color,extra)=>Object.assign({xref:'paper',yref:'paper',x:x/W,y:1-y/H,text:text,showarrow:false,xanchor:'center',yanchor:'middle',font:{family:SANS,size:size,color:color}},extra||{});
const layout={width:W,height:H,margin:{l:0,r:0,t:0,b:0},paper_bgcolor:'#fff',plot_bgcolor:'#fff',showlegend:false,barmode:'overlay',bargap:0,
 xaxis:sx(dx(100,383),'y'),yaxis:sy(dy(41,239),'x',2),
 xaxis2:sx(dx(96.5,378),'y2'),yaxis2:sy(dy(402,599),'x2',0),
 xaxis3:{domain:dx(599,1137),anchor:'y3',range:[0,350],tickmode:'array',tickvals:histXTicks,ticks:'inside',ticklen:10,tickwidth:1.2,tickcolor:'#333',mirror:'allticks',showline:true,linewidth:1.6,linecolor:'#444',showgrid:false,zeroline:false,layer:'above traces',tickfont:{family:NUMF,size:25,color:INK},title:{text:'Test statistic',font:{family:SANS,size:22.5,color:INK},standoff:4}},
 yaxis3:{domain:dy(114,531),anchor:'x3',range:[0,500],tickmode:'array',tickvals:histYTicks,ticks:'inside',ticklen:10,tickwidth:1.2,tickcolor:'#333',mirror:'allticks',showline:true,linewidth:1.6,linecolor:'#444',showgrid:false,zeroline:false,layer:'above traces',tickfont:{family:NUMF,size:25,color:INK},ticklabelstandoff:8,title:{text:'Counts',font:{family:SANS,size:22.5,color:INK},standoff:9}},
 shapes:[
  {type:'rect',xref:'paper',yref:'paper',x0:749.5/W,x1:1097/W,y0:1-191/H,y1:1-136/H,fillcolor:'#fff',line:{color:'#444',width:1.4},layer:'above'},
  {type:'rect',xref:'paper',yref:'paper',x0:757/W,x1:814/W,y0:1-157/H,y1:1-144/H,fillcolor:NAVY,line:{width:0},layer:'above'},
  {type:'rect',xref:'paper',yref:'paper',x0:757/W,x1:814/W,y0:1-183/H,y1:1-170/H,fillcolor:MAROON,line:{width:0},layer:'above'}
 ],
 annotations:[
  paperNote(238,21,'2D scatter plot under <i>H</i><sub>0</sub>',23,'#222'),
  paperNote(238,381,'2D scatter plot under <i>H</i><sub>1</sub>',23,'#222'),
  paperNote(862,89,'Power-law background, 12-vertex dense subgraph',22.3,'#222'),
  paperNote(826,150,'Background alone',21,'#222',{xanchor:'left'}),
  paperNote(826,176,'Background and foreground',21,'#222',{xanchor:'left'}),
  paperNote(650,448,'<b><i>H</i><sub>o</sub></b>',25,NAVY),
  paperNote(859,479,'<b><i>H</i><sub>1</sub></b>',25,MAROON),
  paperNote(236,327,'(a)',22,INK),
  paperNote(236,687,'(b)',22,INK),
  paperNote(862,687,'(c)',22,INK)
 ]};
Plotly.newPlot('c',traces,layout,{displayModeBar:false,staticPlot:true});
</script></body></html>
